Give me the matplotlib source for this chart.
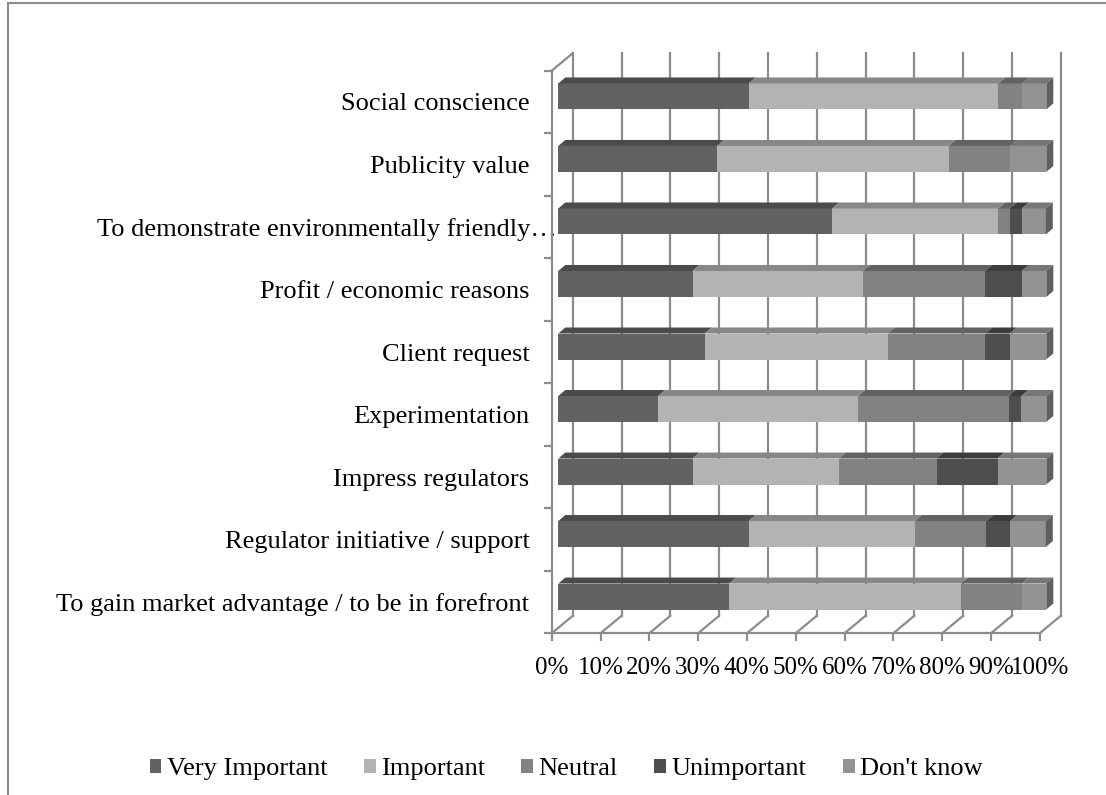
import matplotlib.pyplot as plt
import numpy as np
from matplotlib.lines import Line2D
from matplotlib.patches import Polygon
from matplotlib.transforms import ScaledTranslation

plt.rcParams['font.family'] = ['Liberation Serif', 'DejaVu Serif']

categories = [
    'Social conscience',
    'Publicity value',
    'To demonstrate environmentally friendly\u2026',
    'Profit / economic reasons',
    'Client request',
    'Experimentation',
    'Impress regulators',
    'Regulator initiative / support',
    'To gain market advantage / to be in forefront',
]
series = ['Very Important', 'Important', 'Neutral', 'Unimportant', "Don't know"]

very_important = [39.0, 32.5, 56.1, 27.5, 30.0, 20.5, 27.5, 39.0, 35.0]
important = [51.2, 47.5, 34.1, 35.0, 37.5, 41.0, 30.0, 34.1, 47.5]
neutral = [4.9, 12.5, 2.4, 25.0, 20.0, 30.8, 20.0, 14.6, 12.5]
unimportant = [0.0, 0.0, 2.4, 7.5, 5.0, 2.6, 12.5, 4.9, 0.0]
dont_know = [4.9, 7.5, 4.9, 5.0, 7.5, 5.1, 10.0, 7.3, 5.0]

xticks = [0, 10, 20, 30, 40, 50, 60, 70, 80, 90, 100]

front_colors = ['#626262', '#b3b3b3', '#828282', '#4e4e4e', '#939393']
top_colors = ['#4b4b4b', '#878787', '#626262', '#3c3c3c', '#777777']
side_color = '#5f5f5f'
grid_color = '#8c8c8c'
fs = 19

W, H = 1106, 795
fig = plt.figure(figsize=(W / 100, H / 100), dpi=100)
# front plane of the 3-D plot area, in pixels
x0, x1, y0, y1 = 551.7, 1039.7, 70.7, 633.3
ax = fig.add_axes([x0 / W, 1 - y1 / H, (x1 - x0) / W, (y1 - y0) / H])
ax.set_xlim(0, 100)
ax.set_ylim(len(categories) - 0.5, -0.5)

px_x = (x1 - x0) / 100.0
px_y = (y1 - y0) / len(categories)

# depth of the back wall and of the bars (pixels -> data)
wall_dx, wall_dy = 21 / px_x, -17.5 / px_y
bar_sx, bar_sy = 6.6 / px_x, -5.5 / px_y
bar_dx, bar_dy = 7.0 / px_x, -6.0 / px_y
bar_h = 26 / px_y

top, bottom = -0.5, len(categories) - 0.5

# walls and gridlines
for xv in xticks:
    ax.add_line(Line2D([xv + wall_dx] * 2, [top + wall_dy, bottom + wall_dy],
                       color=grid_color, lw=1.6, zorder=1, clip_on=False))
    ax.add_line(Line2D([xv, xv + wall_dx], [bottom, bottom + wall_dy],
                       color=grid_color, lw=1.6, zorder=1, clip_on=False))
ax.add_line(Line2D([0, wall_dx], [top, top + wall_dy],
                   color=grid_color, lw=1.6, zorder=1, clip_on=False))

# stacked bars: front faces
values = np.array([very_important, important, neutral, unimportant, dont_know])
y = np.arange(len(categories)) + bar_sy
left = np.zeros(len(categories)) + bar_sx
for k, name in enumerate(series):
    ax.barh(y, values[k], left=left, height=bar_h, color=front_colors[k],
            label=name, zorder=3, clip_on=False)
    # top faces
    for i in range(len(categories)):
        if values[k, i] <= 0:
            continue
        l, r = left[i], left[i] + values[k, i]
        yt = y[i] - bar_h / 2
        ax.add_patch(Polygon([(l, yt), (r, yt), (r + bar_dx, yt + bar_dy),
                              (l + bar_dx, yt + bar_dy)], closed=True,
                             facecolor=top_colors[k], edgecolor='none',
                             zorder=3, clip_on=False))
    left = left + values[k]

# right side faces
for i in range(len(categories)):
    r = left[i]
    yt, yb = y[i] - bar_h / 2, y[i] + bar_h / 2
    ax.add_patch(Polygon([(r, yt), (r, yb), (r + bar_dx, yb + bar_dy),
                          (r + bar_dx, yt + bar_dy)], closed=True,
                         facecolor=side_color, edgecolor='none',
                         zorder=3, clip_on=False))

# axes
for s in ['top', 'right']:
    ax.spines[s].set_visible(False)
for s in ['left', 'bottom']:
    ax.spines[s].set_color(grid_color)
    ax.spines[s].set_linewidth(1.6)
    ax.spines[s].set_zorder(2)

ax.set_xticks(xticks)
ax.set_xticklabels(['%d%%' % v for v in xticks])
ax.tick_params(axis='x', length=6, width=1.6, color=grid_color, pad=11,
               labelsize=18)
ax.set_yticks(np.arange(len(categories)))
ax.set_yticklabels(categories)
ax.set_yticks(np.arange(len(categories) + 1) - 0.5, minor=True)
ax.tick_params(axis='y', which='major', length=0, pad=16, labelsize=fs)
ax.tick_params(axis='y', which='minor', length=6, width=1.6, color=grid_color)
ax.tick_params(axis='x', which='minor', length=0)

# the truncated label runs into the axis
lab = ax.get_yticklabels()[2]
lab.set_transform(lab.get_transform() + ScaledTranslation(0.27, 0, fig.dpi_scale_trans))

fig.legend(loc='center', bbox_to_anchor=(566 / W, 1 - 769 / H), ncol=5,
           frameon=False, fontsize=fs, handlelength=0.45, handleheight=0.45,
           handletextpad=0.2, columnspacing=1.38)

# chart border
fig.add_artist(Line2D([8 / W, 1], [1 - 3 / H] * 2, color='#8c8c8c', lw=1.5,
                      transform=fig.transFigure))
fig.add_artist(Line2D([8 / W] * 2, [0, 1 - 3 / H], color='#8c8c8c', lw=1.5,
                      transform=fig.transFigure))

fig.savefig('out.png', dpi=100, facecolor='white')
